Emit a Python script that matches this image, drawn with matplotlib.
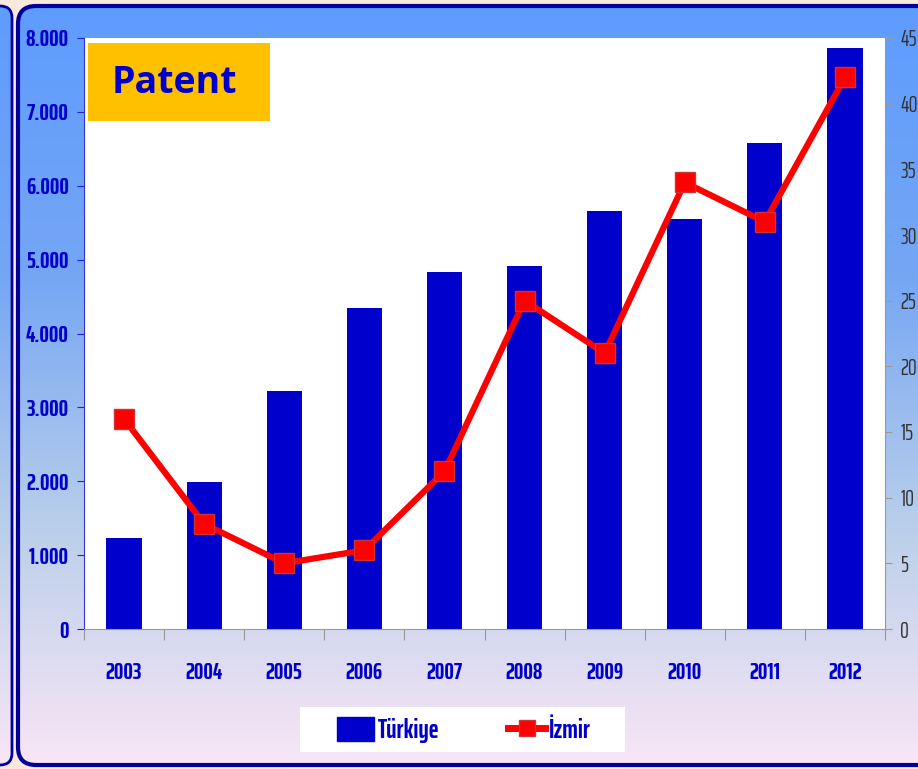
import numpy as np
import matplotlib.pyplot as plt
from matplotlib.patches import FancyBboxPatch, Rectangle, Patch
from matplotlib.colors import LinearSegmentedColormap
from matplotlib.lines import Line2D

years = ['2003', '2004', '2005', '2006', '2007', '2008', '2009', '2010', '2011', '2012']
turkiye = [1230, 1990, 3220, 4340, 4830, 4910, 5660, 5550, 6580, 7860]
izmir = [16, 8, 5, 6, 12, 25, 21, 34, 31, 42]
left_ticks = [0, 1000, 2000, 3000, 4000, 5000, 6000, 7000, 8000]
left_labels = ['0', '1.000', '2.000', '3.000', '4.000', '5.000', '6.000', '7.000', '8.000']
right_ticks = [0, 5, 10, 15, 20, 25, 30, 35, 40, 45]

W, H = 918, 769
blue = '#0000cc'
xnarrow = ['Saira ExtraCondensed', 'Roboto Condensed', 'DejaVu Sans']

fig = plt.figure(figsize=(W / 100, H / 100), dpi=100)
fig.patch.set_facecolor('#fbe8dc')

# background panel with gradient
bg = fig.add_axes([0, 0, 1, 1])
bg.axis('off')
cmap = LinearSegmentedColormap.from_list('g', [(0, '#5e9cff'), (0.35, '#74a6f4'),
                                               (0.7, '#bcd0ea'), (1, '#f9e6f6')])
grad = np.linspace(0, 1, 256).reshape(-1, 1)
im = bg.imshow(grad, cmap=cmap, aspect='auto', extent=[18, 918, 765, 6])
panel = FancyBboxPatch((18, 6), 920, 759, boxstyle='round,pad=0,rounding_size=18',
                       facecolor='none', edgecolor='#000099', lw=3)
bg.add_patch(panel)
im.set_clip_path(panel)
# edge of the neighbouring panel on the left
left_panel = FancyBboxPatch((-40, 6), 52, 759, boxstyle='round,pad=0,rounding_size=12',
                            facecolor='none', edgecolor='#000099', lw=2)
bg.add_patch(left_panel)
left_im = bg.imshow(grad, cmap=cmap, aspect='auto', extent=[0, 12, 765, 6])
left_im.set_clip_path(left_panel)
bg.set_xlim(0, W)
bg.set_ylim(H, 0)

# legend box
bg.add_patch(Rectangle((300, 707), 325, 45, facecolor='white', edgecolor='none'))

ax = fig.add_axes([84 / W, 1 - 629 / H, (885 - 84) / W, (629 - 38) / H])
ax.set_facecolor('white')
x = np.arange(len(years))
ax.bar(x, turkiye, width=0.44, color=blue, zorder=2)
ax.set_xlim(-0.5, len(years) - 0.5)
ax.set_ylim(0, 8000)
ax.set_yticks(left_ticks)
ax.set_yticklabels(left_labels, family=xnarrow, fontsize=17, fontweight='bold', color=blue)
ax.set_xticks(np.arange(-0.5, len(years), 1))
ax.set_xticklabels([])
ax.set_xticks(x, minor=True)
ax.set_xticklabels(years, minor=True, family=xnarrow, fontsize=17, fontweight='bold', color=blue)
ax.tick_params(axis='x', which='major', length=8, color='#999999', direction='out')
ax.tick_params(axis='x', which='minor', length=0, pad=24)
ax.tick_params(axis='y', length=5, color='#2222cc', pad=6)
for s in ['top', 'right']:
    ax.spines[s].set_visible(False)
ax.spines['left'].set_color('#3333dd')
ax.spines['bottom'].set_color('#999999')

ax2 = ax.twinx()
ax2.plot(x, izmir, color='#ff0000', lw=4.5, marker='s', ms=15, mfc='#ff0000',
         mec='#cc3333', mew=1, zorder=3)
ax2.set_ylim(0, 45)
ax2.set_yticks(right_ticks)
ax2.set_yticklabels([str(t) for t in right_ticks], family=xnarrow, fontsize=16, color='#333333')
ax2.tick_params(axis='y', length=5, color='#999999', pad=6)
for s in ['top', 'left', 'bottom']:
    ax2.spines[s].set_visible(False)
ax2.spines['right'].set_color('#999999')

# title box
fig.add_artist(Rectangle((88 / W, 1 - 121 / H), 182 / W, 78 / H, transform=fig.transFigure,
                         facecolor='#ffc000', edgecolor='none', zorder=5))
fig.text(174 / W, 1 - 83 / H, 'Patent', family=['Open Sans', 'DejaVu Sans'], fontsize=27,
         fontweight='bold', color=blue, ha='center', va='center', zorder=6)

handles = [Patch(facecolor=blue, edgecolor=blue),
           Line2D([0], [0], color='#ff0000', lw=5, marker='s', ms=11, mec='#cc3333')]
leg = fig.legend(handles, ['Türkiye', 'İzmir'], loc='center', bbox_to_anchor=(464 / W, 1 - 730 / H),
                 ncol=2, frameon=False, prop={'family': xnarrow, 'size': 19, 'weight': 'bold'},
                 handlelength=1.4, handleheight=1.0, handletextpad=0.15, columnspacing=2.6)
for t in leg.get_texts():
    t.set_color(blue)

fig.savefig('out.png', dpi=100, facecolor=fig.get_facecolor())
